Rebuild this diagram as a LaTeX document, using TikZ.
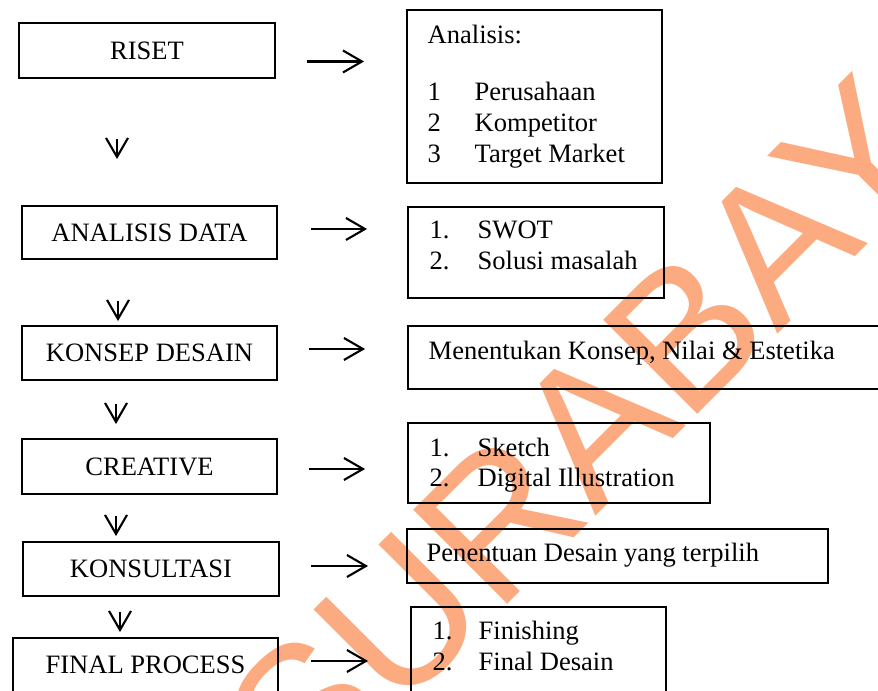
\documentclass[tikz,border=0pt]{standalone}
\usepackage{fontspec}
\setmainfont{Liberation Serif}
\newfontfamily\wmfont{Liberation Sans}
\usepackage{tikz}
\usetikzlibrary{arrows.meta}
\definecolor{wmorange}{RGB}{252,170,128}
\tikzset{
	leftbox/.style={draw,line width=0.6pt,inner sep=0pt,text height=1.75mm,text depth=0pt,minimum width=2.55cm,minimum height=0.54cm,font=\fontsize{7.55}{9}\selectfont},
	rightbox/.style={draw,line width=0.6pt,inner sep=0pt,anchor=north west},
	txt/.style={anchor=base west,inner sep=0pt,font=\fontsize{7.55}{9}\selectfont},
	arr/.style={line width=0.6pt,-{Straight Barb[length=1.9mm,width=2.2mm]}}
}

\begin{document}
\begin{tikzpicture}
	\useasboundingbox (0,0) rectangle (8.78,-6.91);
	\clip (0,0) rectangle (8.78,-6.91);
	\node[rotate=45,anchor=base west,inner sep=0pt,text=wmorange,font=\wmfont\fontsize{55}{55}\selectfont] (wm) at (3.06,-8.06) {SURABAYA};

	\node[leftbox,minimum width=2.56cm,minimum height=0.55cm] (riset) at (1.47,-0.505) {RISET};
	\node[leftbox,minimum height=0.53cm] (data) at (1.495,-2.325) {ANALISIS DATA};
	\node[leftbox] (konsep) at (1.495,-3.53) {KONSEP DESAIN};
	\node[leftbox,minimum height=0.55cm] (creative) at (1.495,-4.665) {CREATIVE};
	\node[leftbox,minimum width=2.56cm] (konsultasi) at (1.51,-5.69) {KONSULTASI};
	\node[leftbox,minimum width=2.65cm] (final) at (1.455,-6.65) {FINAL PROCESS};

	\node[rightbox,minimum width=2.55cm,minimum height=1.73cm] (analisis) at (4.06,-0.09) {};
	\node[rightbox,minimum width=2.56cm,minimum height=0.91cm] (swot) at (4.07,-2.06) {};
	\node[rightbox,minimum width=5cm,minimum height=0.63cm] (nilai) at (4.07,-3.25) {};
	\node[rightbox,minimum width=3.02cm,minimum height=0.80cm] (sketch) at (4.07,-4.22) {};
	\node[rightbox,minimum width=4.21cm,minimum height=0.54cm] (pilih) at (4.06,-5.28) {};
	\node[rightbox,minimum width=2.55cm,minimum height=1cm] (finishing) at (4.10,-6.06) {};

	\node[txt] (an0) at (4.27,-0.435) {Analisis:};
	\node[txt] (an1) at (4.27,-1.005) {1};
	\node[txt] (an1t) at (4.74,-1.005) {Perusahaan};
	\node[txt] (an2) at (4.27,-1.315) {2};
	\node[txt] (an2t) at (4.74,-1.315) {Kompetitor};
	\node[txt] (an3) at (4.27,-1.625) {3};
	\node[txt] (an3t) at (4.74,-1.625) {Target Market};

	\node[txt] (sw1) at (4.29,-2.39) {1.};
	\node[txt] (sw1t) at (4.77,-2.39) {SWOT};
	\node[txt] (sw2) at (4.29,-2.70) {2.};
	\node[txt] (sw2t) at (4.77,-2.70) {Solusi masalah};

	\node[txt] (ni) at (4.28,-3.60) {Menentukan Konsep, Nilai \& Estetika};

	\node[txt] (sk1) at (4.29,-4.565) {1.};
	\node[txt] (sk1t) at (4.77,-4.565) {Sketch};
	\node[txt] (sk2) at (4.29,-4.865) {2.};
	\node[txt] (sk2t) at (4.77,-4.865) {Digital Illustration};

	\node[txt] (pi) at (4.26,-5.615) {Penentuan Desain yang terpilih};

	\node[txt] (fi1) at (4.32,-6.40) {1.};
	\node[txt] (fi1t) at (4.78,-6.40) {Finishing};
	\node[txt] (fi2) at (4.32,-6.71) {2.};
	\node[txt] (fi2t) at (4.78,-6.71) {Final Desain};

	\draw[arr] ([xshift=3.1mm,yshift=-1.1mm]riset.east) -- ++(0.57,0);
	\draw[arr] ([xshift=3.3mm,yshift=0.35mm]data.east) -- ++(0.56,0);
	\draw[arr] ([xshift=3.1mm,yshift=0.4mm]konsep.east) -- ++(0.56,0);
	\draw[arr] ([xshift=3.1mm,yshift=-0.25mm]creative.east) -- ++(0.56,0);
	\draw[arr] ([xshift=3.1mm,yshift=0.3mm]konsultasi.east) -- ++(0.57,0);
	\draw[arr] ([xshift=3.2mm,yshift=0.4mm]final.east) -- ++(0.57,0);

	\draw[arr] ([xshift=-3mm,yshift=-6mm]riset.south) -- ++(0,-0.2);
	\draw[arr] ([xshift=-3.15mm,yshift=-4.1mm]data.south) -- ++(0,-0.2);
	\draw[arr] ([xshift=-3.35mm,yshift=-2.3mm]konsep.south) -- ++(0,-0.2);
	\draw[arr] ([xshift=-3.35mm,yshift=-2.1mm]creative.south) -- ++(0,-0.2);
	\draw[arr] ([xshift=-3.1mm,yshift=-1.5mm]konsultasi.south) -- ++(0,-0.2);
\end{tikzpicture}
\end{document}
